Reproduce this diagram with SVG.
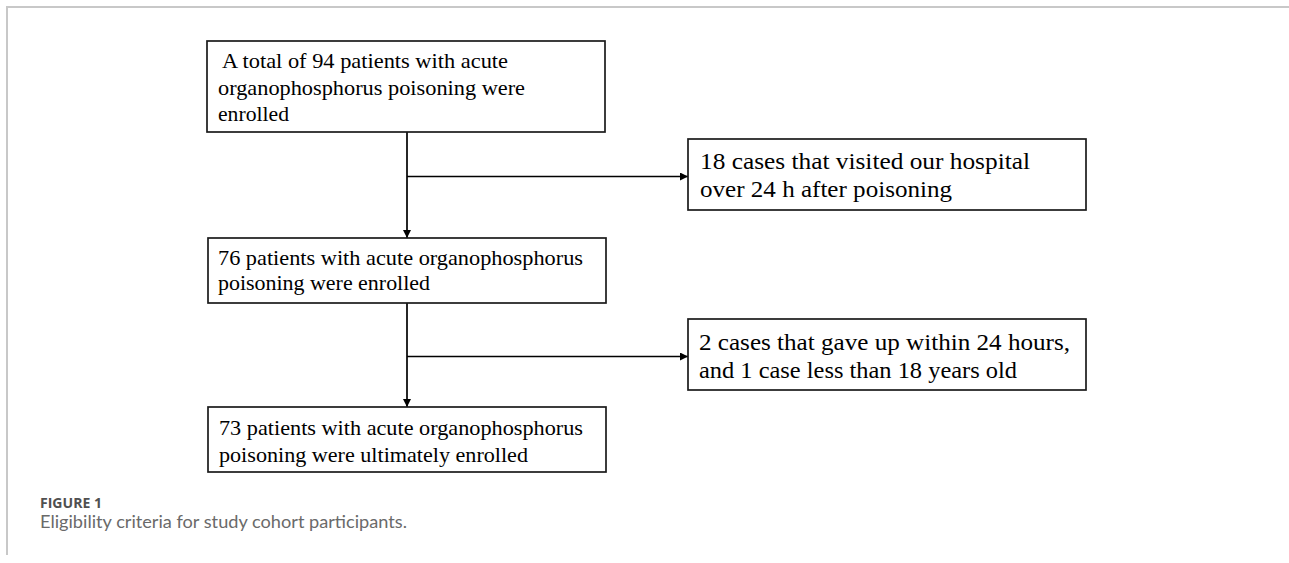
<svg xmlns="http://www.w3.org/2000/svg" width="1289" height="563" viewBox="0 0 1289 563">
<style>
.frame{stroke:#c8c8c8;stroke-width:2;fill:none}
.box{fill:#fff;stroke:#1a1a1a;stroke-width:1.7}
.t{font-family:"Liberation Serif","Times New Roman",serif;fill:#000}
.l{font-size:21.5px}
.r{font-size:23.5px}
.conn{stroke:#000;stroke-width:1.7;fill:none}
.cap1{font-family:"Open Sans","Liberation Sans",sans-serif;font-size:14.5px;font-weight:700;fill:#505050}
.cap2{font-family:Lato,"Open Sans","Liberation Sans",sans-serif;font-size:18px;fill:#6a6a6a}
</style>
<defs>
<marker id="ahs" viewBox="0 0 10 10" refX="10" refY="5" markerWidth="9" markerHeight="8" orient="auto" markerUnits="userSpaceOnUse">
<path d="M0,0 L10,5 L0,10 z" fill="#000"/>
</marker>
</defs>
<rect width="1289" height="563" fill="#fff"/>
<path class="frame" d="M7,555 V7 H1289"/>

<g id="connectors">
<line class="conn" x1="407" y1="132" x2="407" y2="238" marker-end="url(#ahs)"/>
<line class="conn" x1="407" y1="176.5" x2="688" y2="176.5" marker-end="url(#ahs)"/>
<line class="conn" x1="407" y1="303" x2="407" y2="407" marker-end="url(#ahs)"/>
<line class="conn" x1="407" y1="356.5" x2="688" y2="356.5" marker-end="url(#ahs)"/>
</g>

<g id="node-total94">
<rect class="box" x="207" y="41" width="398" height="91"/>
<text class="t l" x="222" y="68" textLength="286" lengthAdjust="spacingAndGlyphs">A total of 94 patients with acute</text>
<text class="t l" x="218" y="94.5" textLength="307" lengthAdjust="spacingAndGlyphs">organophosphorus poisoning were</text>
<text class="t l" x="218" y="121" textLength="71" lengthAdjust="spacingAndGlyphs">enrolled</text>
</g>

<g id="node-excluded18">
<rect class="box" x="688" y="139" width="398" height="71"/>
<text class="t r" x="700" y="169" textLength="330" lengthAdjust="spacingAndGlyphs">18 cases that visited our hospital</text>
<text class="t r" x="700" y="197" textLength="252" lengthAdjust="spacingAndGlyphs">over 24 h after poisoning</text>
</g>

<g id="node-enrolled76">
<rect class="box" x="208" y="238" width="398" height="65"/>
<text class="t l" x="218" y="265" textLength="365" lengthAdjust="spacingAndGlyphs">76 patients with acute organophosphorus</text>
<text class="t l" x="218" y="290" textLength="212" lengthAdjust="spacingAndGlyphs">poisoning were enrolled</text>
</g>

<g id="node-excluded3">
<rect class="box" x="688" y="319" width="398" height="71"/>
<text class="t r" x="699" y="350" textLength="371" lengthAdjust="spacingAndGlyphs">2 cases that gave up within 24 hours,</text>
<text class="t r" x="699" y="378" textLength="318" lengthAdjust="spacingAndGlyphs">and 1 case less than 18 years old</text>
</g>

<g id="node-final73">
<rect class="box" x="208" y="407" width="398" height="65"/>
<text class="t l" x="219" y="435" textLength="364" lengthAdjust="spacingAndGlyphs">73 patients with acute organophosphorus</text>
<text class="t l" x="219" y="462" textLength="309" lengthAdjust="spacingAndGlyphs">poisoning were ultimately enrolled</text>
</g>

<g id="caption">
<text class="cap1" x="40" y="508" textLength="62" lengthAdjust="spacingAndGlyphs">FIGURE 1</text>
<text class="cap2" x="40" y="528" textLength="367" lengthAdjust="spacingAndGlyphs">Eligibility criteria for study cohort participants.</text>
</g>
</svg>
